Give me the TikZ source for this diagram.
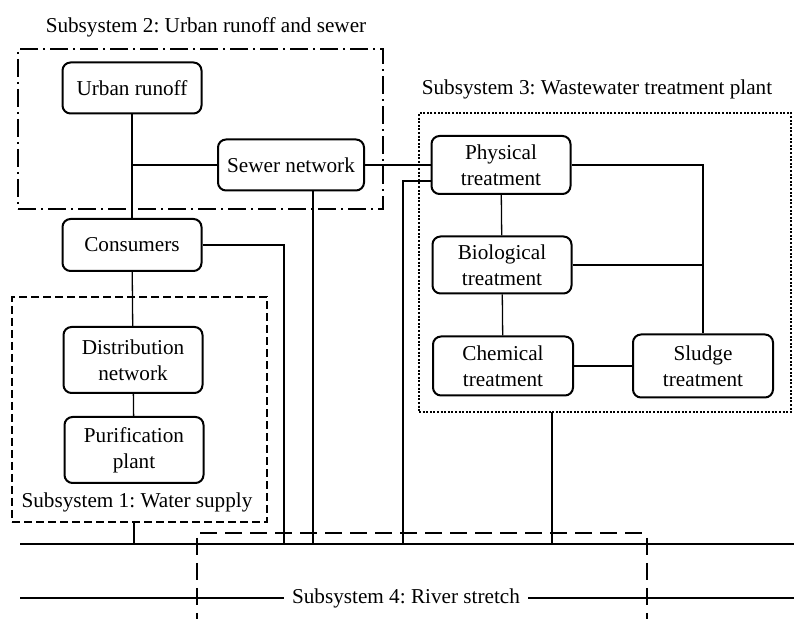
\documentclass[tikz,border=0pt]{standalone}
\usepackage{fontspec}
\setmainfont{Liberation Serif}
\frenchspacing
\tikzset{
    unit/.style={draw, rounded corners=4pt, line width=1pt, align=center, inner sep=1pt, minimum width=69.5pt},
    frame/.style={minimum width=#1, inner sep=0pt, outer sep=0pt},
    link/.style={line width=0.65pt},
    dashdot/.style={line width=1.2pt, dash pattern=on 9pt off 2.5pt on 1pt off 2.5pt},
    shortdash/.style={line width=1pt, dash pattern=on 4pt off 2pt},
    dotline/.style={line width=1.1pt, dash pattern=on 1pt off 0.8pt},
    longdash/.style={line width=1.2pt, dash pattern=on 8.5pt off 4pt}
}

\begin{document}
\begin{tikzpicture}[x=0.5pt, y=-0.5pt, font=\fontsize{10.6}{13}\selectfont]
    \useasboundingbox (0,0) rectangle (794,619);

    % Подсистема 2
    \node[frame=182.5pt, minimum height=80pt, draw, dashdot] (s2box) at (200.5,129) {};
    \node (s2lbl) at (206,27) {Subsystem 2: Urban runoff and sewer};
    \node[unit, minimum height=25.5pt] (urban) at (132,88) {Urban runoff};
    \node[unit, minimum height=25.5pt, minimum width=73pt] (sewer) at (291,165) {Sewer network};

    % Подсистема 1
    \node[frame=127.5pt, minimum height=112.5pt, draw, shortdash] (s1box) at (139.5,409.5) {};
    \node (s1lbl) at (137,502) {Subsystem 1: Water supply};
    \node[unit, minimum height=26pt] (consumers) at (132,245) {Consumers};
    \node[unit, minimum height=33pt] (distr) at (133,360) {Distribution\\network};
    \node[unit, minimum height=33pt] (purif) at (134,450) {Purification\\plant};

    % Подсистема 3
    \node[frame=186pt, minimum height=149.5pt, draw, dotline] (s3box) at (605,262.5) {};
    \node (s3lbl) at (597,89) {Subsystem 3: Wastewater treatment plant};
    \node[unit, minimum height=29pt] (phys) at (501,165) {Physical\\treatment};
    \node[unit, minimum height=28.5pt] (bio) at (502,265) {Biological\\treatment};
    \node[unit, minimum height=29.5pt, minimum width=70pt] (chem) at (503,366) {Chemical\\treatment};
    \node[unit, minimum height=31.5pt, minimum width=70pt] (sludge) at (703,366) {Sludge\\treatment};

    % Река
    \coordinate (riverL) at (20,544);
    \coordinate (riverR) at (794,544);
    \coordinate (lowL) at (20,598);
    \coordinate (lowR) at (794,598);
    \node[inner sep=4pt] (s4lbl) at (406,598) {Subsystem 4: River stretch};
    \draw[link] (riverL) -- (riverR);
    \draw[link] (lowL) -- (s4lbl.west);
    \draw[link] (s4lbl.east) -- (lowR);
    \draw[longdash] (200,533) -- (643,533);
    \draw[longdash] (197,538) -- (197,619);
    \draw[longdash] (647,538) -- (647,619);

    % Точки сброса в реку
    \coordinate (r1) at (134,544);
    \coordinate (r2) at (284,544);
    \coordinate (r3) at (313,544);
    \coordinate (r4) at (403,544);
    \coordinate (r5) at (552,544);

    % Связи
    \draw[link] (urban) -- (consumers);
    \draw[link] (sewer.west) -- (sewer.west -| urban);
    \draw[link] (consumers) -- (distr);
    \draw[link] (distr) -- (purif);
    \draw[link] (consumers.east) -| (r2);
    \draw[link] (r3 |- sewer.south) -- (r3);
    \draw[link] (r1 |- s1box.south) -- (r1);
    \draw[link] (sewer.east) -- (phys.west);
    \draw[link] ([yshift=-8pt]phys.west) -| (r4);
    \draw[link] (phys) -- (bio);
    \draw[link] (bio) -- (chem);
    \draw[link] (chem) -- (sludge);
    \draw[link] (phys.east) -| (sludge.north);
    \draw[link] (bio.east) -- (bio.east -| sludge);
    \draw[link] (r5 |- s3box.south) -- (r5);
\end{tikzpicture}
\end{document}
